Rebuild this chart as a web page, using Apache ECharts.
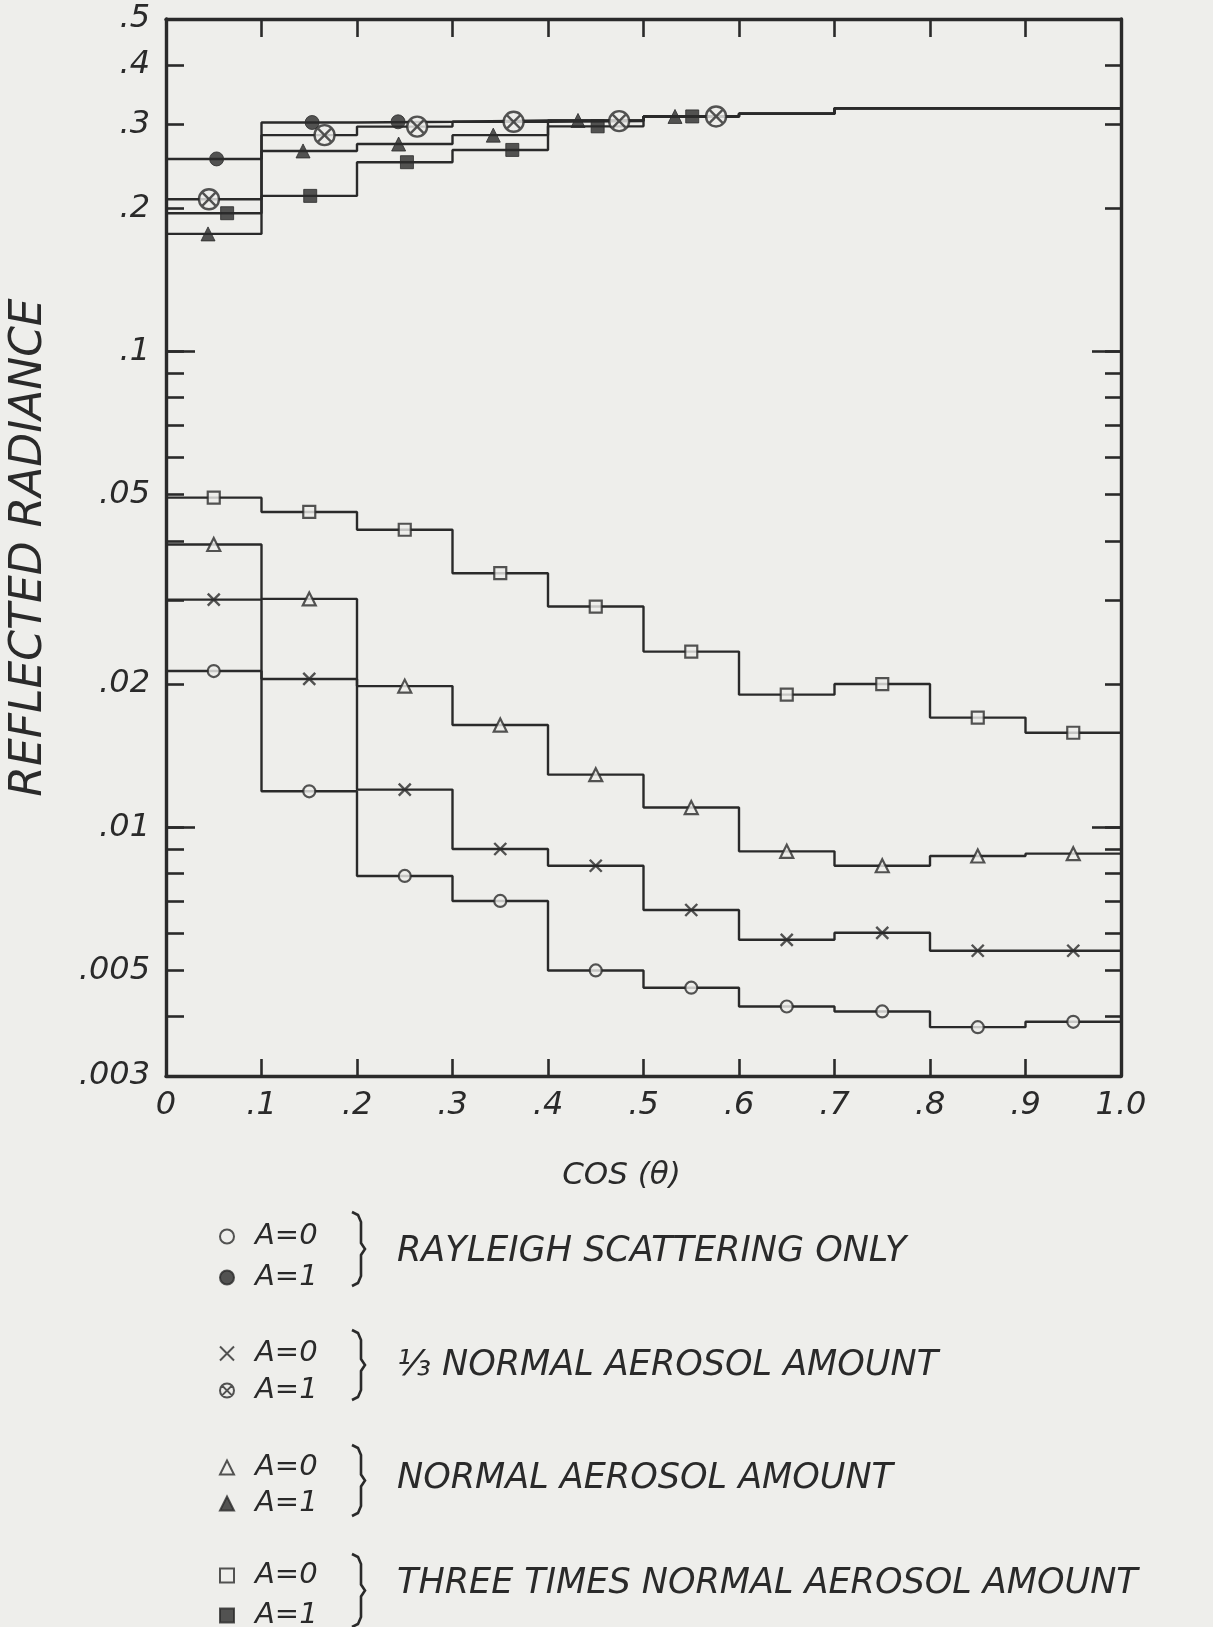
<!DOCTYPE html>
<html>
<head>
<meta charset="utf-8">
<title>Reflected radiance vs cos(θ)</title>
<script src="https://cdn.jsdelivr.net/npm/echarts@6/dist/echarts.min.js"></script>
<style>
  html, body { margin: 0; padding: 0; background: #eeeeeb; }
  #chart { width: 1213px; height: 1627px; }
</style>
</head>
<body>
<div id="chart"></div>
<script>
// 分箱边界与中心
const binEdges = [0, 0.1, 0.2, 0.3, 0.4, 0.5, 0.6, 0.7, 0.8, 0.9, 1.0]
const binCenters = [0.05, 0.15, 0.25, 0.35, 0.45, 0.55, 0.65, 0.75, 0.85, 0.95]

// 刻度
const yTicks = [0.003, 0.004, 0.005, 0.006, 0.007, 0.008, 0.009,
  0.01, 0.02, 0.03, 0.04, 0.05, 0.06, 0.07, 0.08, 0.09,
  0.1, 0.2, 0.3, 0.4, 0.5]
const yLabels = [0.003, 0.005, 0.01, 0.02, 0.05, 0.1, 0.2, 0.3, 0.4, 0.5]
const yLongTicks = [0.01, 0.1]

// A=0 (每个分箱一个值)
const rayleighA0 = [0.0213, 0.0119, 0.0079, 0.0070, 0.0050, 0.0046, 0.0042, 0.0041, 0.0038, 0.0039]
const thirdA0 = [0.0301, 0.0205, 0.0120, 0.0090, 0.0083, 0.0067, 0.0058, 0.0060, 0.0055, 0.0055]
const normalA0 = [0.0393, 0.0302, 0.0198, 0.0164, 0.0129, 0.0110, 0.0089, 0.0083, 0.0087, 0.0088]
const threeA0 = [0.0493, 0.0460, 0.0422, 0.0342, 0.0291, 0.0234, 0.0190, 0.0200, 0.0170, 0.0158]

// A=1
const rayleighA1 = [0.254, 0.303, 0.304, 0.306, 0.306, 0.312, 0.316, 0.3245, 0.3245, 0.3245]
const thirdA1 = [0.209, 0.285, 0.297, 0.304, 0.305, 0.312, 0.316, 0.3245, 0.3245, 0.3245]
const normalA1 = [0.1767, 0.264, 0.273, 0.285, 0.306, 0.312, 0.316, 0.3245, 0.3245, 0.3245]
const threeA1 = [0.1953, 0.2124, 0.250, 0.2653, 0.2974, 0.312, 0.316, 0.3245, 0.3245, 0.3245]

// A=1 标记的横坐标(原图中错开摆放)
const rayleighA1X = [0.053, 0.153, 0.243]
const thirdA1X = [0.045, 0.166, 0.263, 0.364, 0.4745, 0.576]
const normalA1X = [0.044, 0.1435, 0.2436, 0.3427, 0.4314, 0.533]
const threeA1X = [0.064, 0.151, 0.2523, 0.3626, 0.452, 0.551]

const groupNames = ['RAYLEIGH SCATTERING ONLY', '⅓ NORMAL AEROSOL AMOUNT',
  'NORMAL AEROSOL AMOUNT', 'THREE TIMES NORMAL AEROSOL AMOUNT']
const caseNames = ['A=0', 'A=1']

const ink = '#2a2a2a'
const paper = '#eeeeeb'
const font = 'DejaVu Sans'

const crossPath = 'path://M0,0L10,10M10,0L0,10'
const otimesPath = 'path://M10,0A10,10,0,1,1,10,20A10,10,0,1,1,10,0ZM3,3L17,17M17,3L3,17'

const hollow = { color: paper, borderColor: ink, borderWidth: 2.2 }
const solid = { color: ink, borderColor: ink, borderWidth: 1 }

const groups = [
  { a0: rayleighA0, a1: rayleighA1, a1x: rayleighA1X,
    s0: { symbol: 'circle', size: 12, style: hollow },
    s1: { symbol: 'circle', size: 14, style: solid } },
  { a0: thirdA0, a1: thirdA1, a1x: thirdA1X,
    s0: { symbol: crossPath, size: 12, style: { color: 'transparent', borderColor: ink, borderWidth: 2.4 } },
    s1: { symbol: otimesPath, size: 20, style: { color: paper, borderColor: ink, borderWidth: 2.4 } } },
  { a0: normalA0, a1: normalA1, a1x: normalA1X,
    s0: { symbol: 'triangle', size: 13, style: hollow },
    s1: { symbol: 'triangle', size: 14, style: solid } },
  { a0: threeA0, a1: threeA1, a1x: threeA1X,
    s0: { symbol: 'rect', size: 12, style: hollow },
    s1: { symbol: 'rect', size: 13, style: solid } }
]

function stepData(values) {
  return binEdges.map((x, i) => [x, values[Math.min(i, values.length - 1)]])
}

function fmtY(v) {
  return String(Number(Number(v).toPrecision(3))).replace(/^0\./, '.')
}

function fmtX(v) {
  const n = Number(Number(v).toFixed(1))
  if (n === 0) return '0'
  if (n === 1) return '1.0'
  return String(n).replace(/^0\./, '.')
}

const lineSeries = []
const markSeries = []
groups.forEach((g, gi) => {
  [g.a0, g.a1].forEach(vals => {
    lineSeries.push({
      type: 'line', step: 'end', symbol: 'none', silent: true,
      lineStyle: { color: ink, width: 2.4 },
      data: stepData(vals), z: 2
    })
  })
  markSeries.push({
    name: gi + '|' + caseNames[0], type: 'scatter',
    symbol: g.s0.symbol, symbolSize: g.s0.size, symbolKeepAspect: true,
    itemStyle: g.s0.style, z: 5,
    data: binCenters.map((x, i) => [x, g.a0[i]])
  })
  markSeries.push({
    name: gi + '|' + caseNames[1], type: 'scatter',
    symbol: g.s1.symbol, symbolSize: g.s1.size, symbolKeepAspect: true,
    itemStyle: g.s1.style, z: 6,
    data: g.a1x.map((x, i) => [x, g.a1[i]])
  })
})

// 图例(每组两行)
const legendRows = [[1235, 1273], [1352, 1386], [1466, 1499], [1574, 1611]]
const legends = legendRows.map((rows, gi) => ({
  orient: 'vertical', left: 219, top: rows[0] - 13, padding: 0,
  width: 200, height: 120,
  itemWidth: 14, itemHeight: 14, itemGap: rows[1] - rows[0] - 26,
  selectedMode: false,
  data: [gi + '|' + caseNames[0], gi + '|' + caseNames[1]],
  formatter: name => '{pad| }' + name.split('|')[1],
  textStyle: {
    color: ink, fontFamily: font, fontStyle: 'italic', fontSize: 29, lineHeight: 26,
    rich: { pad: { width: 16, lineHeight: 26 } }
  }
}))

function brace(x, top, bottom) {
  const mid = (top + bottom) / 2
  return [[x, top], [x + 6, top + 3], [x + 9, top + 10], [x + 9, mid - 6],
    [x + 13, mid], [x + 9, mid + 6], [x + 9, bottom - 10], [x + 6, bottom - 3], [x, bottom]]
}
const braceSpans = [[1212, 1286], [1330, 1400], [1445, 1516], [1554, 1627]]
const textRows = [1252, 1366, 1479, 1584]

const graphics = []
braceSpans.forEach((s, i) => {
  graphics.push({
    type: 'polyline', shape: { points: brace(352, s[0], s[1]) },
    style: { stroke: ink, lineWidth: 2.6, fill: null }
  })
  graphics.push({
    type: 'text', left: 397, top: textRows[i] - 18,
    style: { text: groupNames[i], fill: ink, font: 'italic 35px "' + font + '"' }
  })
})

const axisLabelStyle = { color: ink, fontFamily: font, fontStyle: 'italic', fontSize: 32 }
const axisLineStyle = { color: ink, width: 3.4 }
const tickLine = { color: ink, width: 2.6 }

const chart = echarts.init(document.getElementById('chart'))
chart.setOption({
  animation: false,
  backgroundColor: paper,
  grid: { left: 162, top: 19, width: 959, height: 1057 },
  xAxis: [
    {
      type: 'value', min: 0, max: 1, interval: 0.1, position: 'bottom',
      axisLine: { onZero: false, lineStyle: axisLineStyle },
      axisTick: { inside: true, length: 17, lineStyle: tickLine },
      axisLabel: { ...axisLabelStyle, margin: 14, formatter: fmtX },
      splitLine: { show: false },
      name: 'COS (θ)', nameLocation: 'middle', nameGap: 84,
      nameTextStyle: { ...axisLabelStyle, fontSize: 31, padding: [0, 44, 0, 0] }
    },
    {
      type: 'value', min: 0, max: 1, interval: 0.1, position: 'top',
      axisLine: { onZero: false, lineStyle: axisLineStyle },
      axisTick: { inside: true, length: 18, lineStyle: tickLine },
      axisLabel: { show: false },
      splitLine: { show: false }
    }
  ],
  yAxis: [
    {
      type: 'log', logBase: 10, min: 0.003, max: 0.5, position: 'left',
      axisLine: { show: true, onZero: false, lineStyle: axisLineStyle },
      axisTick: { show: true, inside: true, length: 18, customValues: yTicks, lineStyle: tickLine },
      axisLabel: { ...axisLabelStyle, margin: 16, customValues: yLabels, formatter: fmtY },
      splitLine: { show: false },
      name: 'REFLECTED RADIANCE', nameLocation: 'middle', nameGap: 114, nameRotate: 90,
      nameTextStyle: { ...axisLabelStyle, fontSize: 44 }
    },
    {
      type: 'log', logBase: 10, min: 0.003, max: 0.5, position: 'right',
      axisLine: { show: true, onZero: false, lineStyle: axisLineStyle },
      axisTick: { show: true, inside: true, length: 16, customValues: yTicks, lineStyle: tickLine },
      axisLabel: { show: false },
      splitLine: { show: false }
    },
    {
      type: 'log', logBase: 10, min: 0.003, max: 0.5, position: 'left',
      axisLine: { show: false, onZero: false },
      axisTick: { show: true, inside: true, length: 29, customValues: yLongTicks, lineStyle: tickLine },
      axisLabel: { show: false },
      splitLine: { show: false }
    },
    {
      type: 'log', logBase: 10, min: 0.003, max: 0.5, position: 'right',
      axisLine: { show: false, onZero: false },
      axisTick: { show: true, inside: true, length: 29, customValues: yLongTicks, lineStyle: tickLine },
      axisLabel: { show: false },
      splitLine: { show: false }
    }
  ],
  legend: legends,
  graphic: graphics,
  series: [...lineSeries, ...markSeries]
})
</script>
</body>
</html>
